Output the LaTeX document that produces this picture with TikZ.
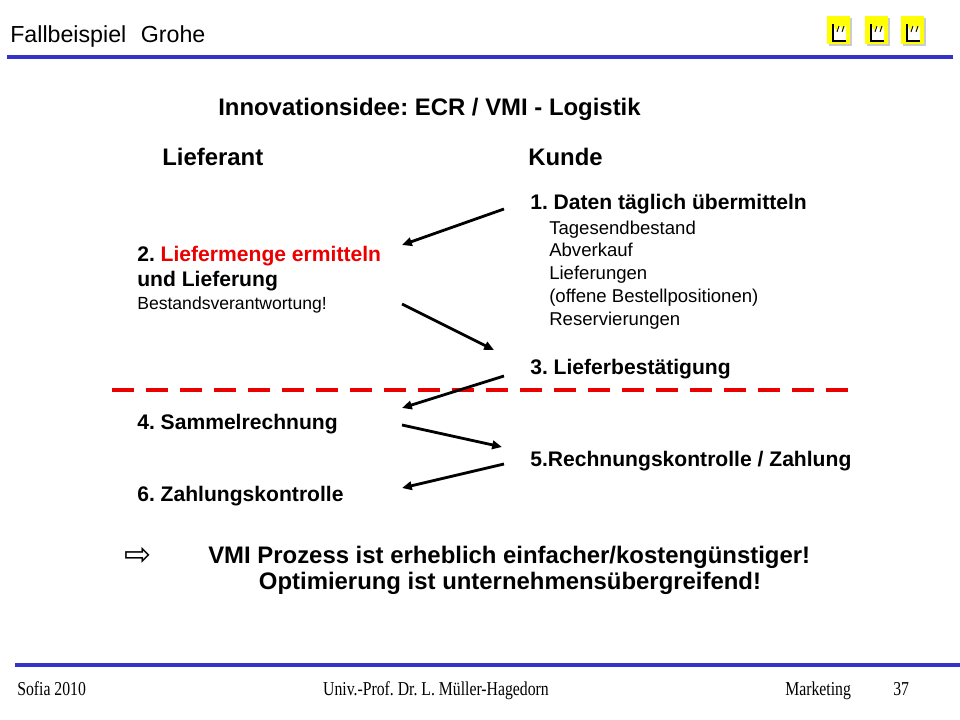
\documentclass[tikz,border=0pt]{standalone}
\usepackage{fontspec}
\setmainfont{Liberation Sans}
\newfontfamily\footfont[FakeStretch=0.8]{Liberation Serif}
\newfontfamily\symfont{DejaVu Sans}
\usetikzlibrary{arrows.meta}
\frenchspacing

\definecolor{slideblue}{RGB}{51,51,204}
\definecolor{logoyellow}{RGB}{255,255,0}
\definecolor{slidered}{RGB}{235,0,0}

\tikzset{
  txt/.style={anchor=base west,inner sep=0pt},
  headtxt/.style={txt,font=\fontsize{17}{20}\selectfont\bfseries},
  itemtxt/.style={txt,font=\fontsize{15}{18}\selectfont\bfseries},
  subtxt/.style={txt,font=\fontsize{13.2}{16}\selectfont},
  foottxt/.style={txt,font=\fontsize{14}{16}\footfont},
  flow/.style={-{Triangle[length=7pt,width=6pt]},line width=2pt},
  bluerule/.style={slideblue,line width=3pt}
}

\begin{document}
\begin{tikzpicture}[x=0.025cm,y=-0.025cm]
\useasboundingbox (0,0) rectangle (960,720);

% header
\node[txt,font=\fontsize{16.5}{20}\selectfont] (topic) at (10,43) {Fallbeispiel\hspace{0.35em} Grohe};
\draw[bluerule] (7,57) -- (953,57);
\foreach \lx in {827,865,901} {
  \begin{scope}[shift={(\lx,0)}]
    \fill[gray!40] (2,18) rectangle (25,46);
    \fill[logoyellow] (0,16) rectangle (23,44);
    \fill[white] (6,40) -- (6,25) -- (10,32) -- (13,25) -- (16,32) -- (19,25) -- (19,40) -- cycle;
    \draw[line width=0.8pt] (6,24) -- (6,41) -- (19,41);
    \draw[line width=0.6pt] (10,32) -- (12,26) (15,32) -- (17,26);
  \end{scope}
}

% title and columns
\node[headtxt] (idea) at (218,116) {Innovationsidee: ECR / VMI - Logistik};
\node[headtxt] (lief) at (162,166) {Lieferant};
\node[headtxt] (kunde) at (528,166) {Kunde};

% Kunde side
\node[itemtxt] (k1) at (530,210) {1. Daten täglich übermitteln};
\node[subtxt] (k1a) at (549,235) {Tagesendbestand};
\node[subtxt] (k1b) at (549,257) {Abverkauf};
\node[subtxt] (k1c) at (549,280) {Lieferungen};
\node[subtxt] (k1d) at (549,303) {(offene Bestellpositionen)};
\node[subtxt] (k1e) at (549,326) {Reservierungen};
\node[itemtxt] (k3) at (530,375) {3. Lieferbestätigung};
\node[itemtxt] (k5) at (530,467) {5.Rechnungskontrolle / Zahlung};

% Lieferant side
\node[itemtxt] (l2) at (137,262) {2. \textcolor{slidered}{Liefermenge ermitteln}};
\node[itemtxt] (l2b) at (137,287) {und Lieferung};
\node[subtxt,font=\fontsize{12.5}{15}\selectfont] (l2c) at (137,310) {Bestandsverantwortung!};
\node[itemtxt] (l4) at (137,430) {4. Sammelrechnung};
\node[itemtxt] (l6) at (137,502) {6. Zahlungskontrolle};

% arrows
\coordinate (a1s) at (504,209); \coordinate (a1e) at (402,245);
\coordinate (a2s) at (402,304); \coordinate (a2e) at (494,350);
\coordinate (a3s) at (504,376); \coordinate (a3e) at (402,408);
\coordinate (a4s) at (402,425); \coordinate (a4e) at (502,447);
\coordinate (a5s) at (504,464); \coordinate (a5e) at (402,488);
\draw[slidered,line width=3.5pt,dash pattern=on 0.55cm off 0.3cm] (112,390) -- (858,390);
\draw[flow] (a1s) -- (a1e);
\draw[flow] (a2s) -- (a2e);
\draw[flow] (a3s) -- (a3e);
\draw[flow] (a4s) -- (a4e);
\draw[flow] (a5s) -- (a5e);

% conclusion
\node[anchor=center,inner sep=0pt,font=\fontsize{23}{26}\symfont] (pfeil) at (138,556) {⇨};
\node[headtxt] (fazit1) at (208,563) {VMI Prozess ist erheblich einfacher/kostengünstiger!};
\node[headtxt,anchor=base] (fazit2) at (510,589) {Optimierung ist unternehmensübergreifend!};

% footer
\draw[bluerule] (15,665) -- (960,665);
\node[foottxt] (ort) at (17,695) {Sofia 2010};
\node[foottxt,anchor=base] (autor) at (436,695) {Univ.-Prof. Dr. L. Müller-Hagedorn};
\node[foottxt] (fach) at (785,695) {Marketing};
\node[foottxt] (seite) at (893,695) {37};
\end{tikzpicture}
\end{document}
